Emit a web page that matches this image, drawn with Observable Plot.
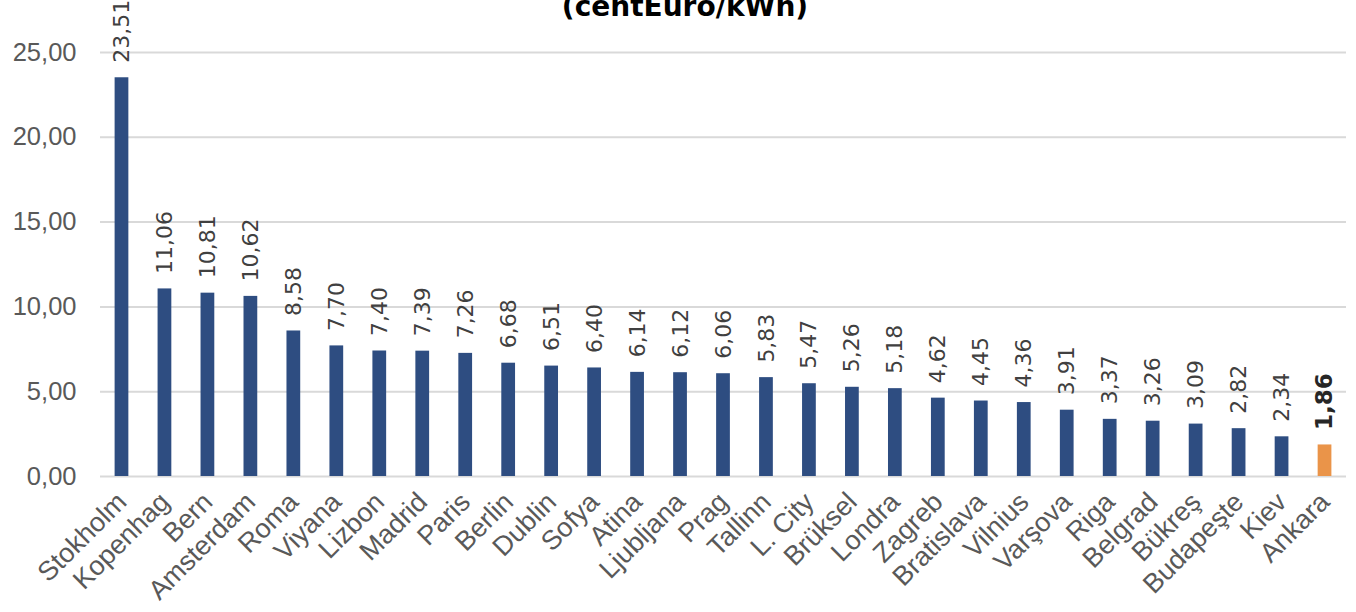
<!DOCTYPE html>
<html>
<head>
<meta charset="utf-8">
<script src="https://cdn.jsdelivr.net/npm/d3@7"></script>
<script src="https://cdn.jsdelivr.net/npm/@observablehq/plot@0.6"></script>
<style>
  html, body { margin: 0; padding: 0; background: #fff; }
  #wrap { position: relative; width: 1356px; height: 612px; overflow: hidden; }
  #title { position: absolute; left: 0; width: 1370px; top: -11px; line-height: 36px; text-align: center;
    font-family: "DejaVu Sans", sans-serif; font-weight: bold; font-size: 28px; color: #000; }
  svg { overflow: visible; }
</style>
</head>
<body>
<div id="wrap">
  <div id="title">(centEuro/kWh)</div>
  <div id="chart"></div>
</div>
<script>
const cities = ["Stokholm","Kopenhag","Bern","Amsterdam","Roma","Viyana","Lizbon","Madrid","Paris","Berlin","Dublin","Sofya","Atina","Ljubljana","Prag","Tallinn","L. City","Brüksel","Londra","Zagreb","Bratislava","Vilnius","Varşova","Riga","Belgrad","Bükreş","Budapeşte","Kiev","Ankara"];
const prices = [23.51,11.06,10.81,10.62,8.58,7.70,7.40,7.39,7.26,6.68,6.51,6.40,6.14,6.12,6.06,5.83,5.47,5.26,5.18,4.62,4.45,4.36,3.91,3.37,3.26,3.09,2.82,2.34,1.86];
const highlight = "Ankara";
const yTicks = [0,5,10,15,20,25];

const data = cities.map((c, i) => ({city: c, value: prices[i]}));
const fmt = v => v.toFixed(2).replace(".", ",");
const labelFont = "'DejaVu Sans', sans-serif";

const chart = Plot.plot({
  width: 1356,
  height: 612,
  marginTop: 52,
  marginBottom: 136,
  marginLeft: 100,
  marginRight: 10,
  style: {fontFamily: "'Liberation Sans', Arial, sans-serif", background: "#fff"},
  x: {domain: cities, paddingInner: 0.68, paddingOuter: 0.34, round: false, label: null},
  y: {domain: [0, 25], label: null},
  marks: [
    Plot.gridY(yTicks, {stroke: "#d9d9d9", strokeOpacity: 1, strokeWidth: 2}),
    Plot.axisY(yTicks, {tickSize: 0, tickPadding: 24, tickFormat: fmt, fontSize: 25.5, fill: "#595959", label: null}),
    Plot.axisX({tickSize: 0, tickPadding: 21, tickRotate: -45, fontSize: 27, fill: "#595959", fontFamily: "'Liberation Sans', Arial, sans-serif", label: null}),
    Plot.barY(data, {x: "city", y: "value", fill: d => d.city === highlight ? "#ea9449" : "#2e4d81"}),
    Plot.text(data.filter(d => d.city !== highlight), {x: "city", y: "value", text: d => fmt(d.value), rotate: -90, textAnchor: "start", lineAnchor: "middle", dy: -15, fontSize: 22, fill: "#404040", fontFamily: labelFont}),
    Plot.text(data.filter(d => d.city === highlight), {x: "city", y: "value", text: d => fmt(d.value), rotate: -90, textAnchor: "start", lineAnchor: "middle", dy: -15, fontSize: 23, fontWeight: "bold", fill: "#262626", fontFamily: labelFont})
  ]
});
document.getElementById("chart").appendChild(chart);
</script>
</body>
</html>
